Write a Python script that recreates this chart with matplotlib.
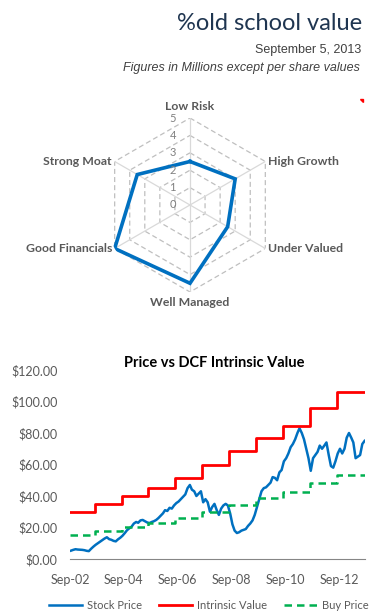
import matplotlib
matplotlib.use("Agg")
import matplotlib.pyplot as plt
import matplotlib.dates as mdates
import matplotlib.patches as mpatches
import numpy as np
import pandas as pd

# radar scores
categories = ["Low Risk", "High Growth", "Under Valued", "Well Managed", "Good Financials", "Strong Moat"]
scores = [2.5, 3.0, 2.5, 4.5, 5.0, 3.5]

# monthly stock price, Sep 2002 .. Aug 2013
price_start = "2002-09-01"
stock_price = [
    5.3, 5.8, 6.2, 6.0, 5.9, 5.8, 5.6, 5.2, 5.0, 6.5, 7.8, 9.0,
    10.0, 11.0, 12.0, 13.0, 13.8, 12.6, 12.2, 11.5, 11.2, 12.5, 13.5, 14.8,
    16.5, 18.3, 19.5, 20.5, 22.5, 23.5, 23.0, 24.5, 24.8, 24.0, 23.2, 22.8,
    23.5, 24.0, 24.8, 26.0, 27.5, 29.0, 31.0, 30.5, 32.5, 32.0, 34.0, 35.5,
    36.5, 38.0, 39.5, 41.0, 45.0, 47.0, 44.0, 43.0, 40.0, 41.5, 43.0, 36.0,
    38.0, 36.0, 30.0, 33.0, 35.0, 31.0, 28.0, 32.0, 34.0, 35.0, 34.0, 29.0,
    22.0, 18.0, 16.5, 17.0, 18.0, 18.5, 19.0, 21.0, 22.5, 24.5, 28.0, 33.0,
    38.0, 43.0, 45.0, 45.5, 47.0, 48.5, 52.0, 51.5, 50.0, 55.0, 56.5, 62.0,
    64.0, 67.0, 71.0, 73.0, 76.0, 80.0, 83.0, 80.0, 76.0, 70.0, 64.0, 56.0,
    64.0, 66.0, 68.0, 72.0, 70.0, 72.0, 74.0, 66.0, 59.0, 58.0, 62.0, 67.0,
    70.0, 67.0, 70.0, 77.0, 80.0, 77.0, 74.0, 64.0, 65.0, 66.0, 73.0, 75.0,
]

# yearly DCF values (change each August)
step_dates = ["2002-09-01", "2003-08-01", "2004-08-01", "2005-08-01", "2006-08-01",
              "2007-08-01", "2008-08-01", "2009-08-01", "2010-08-01", "2011-08-01",
              "2012-08-01", "2013-08-20"]
intrinsic = [30.0, 35.0, 40.0, 45.3, 51.6, 59.7, 68.6, 77.0, 84.7, 95.9, 106.2, 106.2]
buy_price = [15.0, 17.5, 20.0, 22.6, 25.8, 29.9, 34.3, 38.5, 42.4, 48.0, 53.1, 53.1]

xtick_dates = ["2002-09-01", "2004-09-01", "2006-09-01", "2008-09-01", "2010-09-01", "2012-09-01"]
yticks = [0, 20, 40, 60, 80, 100, 120]

fig = plt.figure(figsize=(3.86, 6.13), dpi=100)

# header
fig.text(0.938, 0.962, "%old school value", ha="right", va="center",
         fontsize=17, family="Lato", color="#1f3550")
fig.text(0.935, 0.918, "September 5, 2013", ha="right", va="center",
         fontsize=9, family="Liberation Sans", color="#404040")
fig.text(0.933, 0.889, "Figures in Millions except per share values", ha="right", va="center",
         fontsize=9, family="Liberation Sans", style="italic", color="#404040")

# little red comment marker
fig.patches.append(mpatches.Polygon([[0.933, 0.838], [0.941, 0.838], [0.941, 0.833]],
                                    closed=True, transform=fig.transFigure, color="red"))

# radar
rax = fig.add_axes([0.2668, 0.5237, 0.4508, 0.2838], projection="polar")
rax.set_theta_zero_location("N")
rax.set_theta_direction(-1)
rax.set_ylim(0, 5)
rax.grid(False)
rax.spines["polar"].set_visible(False)
rax.set_xticks([])
rax.set_yticks([])

angles = np.linspace(0, 2 * np.pi, len(categories), endpoint=False)
ring_ang = np.append(angles, angles[0])
for r in range(1, 6):
    rax.plot(ring_ang, [r] * len(ring_ang), color="#bfbfbf", lw=0.9, ls=(0, (4, 2.5)))
for a in angles:
    rax.plot([a, a], [0, 5], color="#d9d9d9", lw=0.9)

vals = scores + scores[:1]
rax.plot(ring_ang, vals, color="#0070c0", lw=2.6, solid_joinstyle="miter")

for r in range(0, 6):
    rax.annotate(str(r), xy=(0, r), xytext=(-12.5, 0), textcoords="offset points",
                 ha="center", va="center", fontsize=8, family="Lato", color="#808080")

label_pos = [(5.35, "center", "bottom"), (5.0, "left", "center"), (5.0, "left", "center"),
             (5.3, "center", "top"), (5.0, "right", "center"), (5.0, "right", "center")]
for a, name, (rr, ha, va) in zip(angles, categories, label_pos):
    dx = 2 if ha == "left" else (-2 if ha == "right" else 0)
    rax.annotate(name, xy=(a, rr), xytext=(dx, 0), textcoords="offset points",
                 ha=ha, va=va, fontsize=8.8, family="Lato", fontweight="bold", color="#595959",
                 annotation_clip=False)

# price chart
ax = fig.add_axes([0.1813, 0.0881, 0.7642, 0.3083])
dates = pd.date_range(price_start, periods=len(stock_price), freq="MS") + pd.Timedelta(days=14)
sdates = pd.to_datetime(step_dates)
ax.plot(dates, stock_price, color="#0070c0", lw=1.8, label="Stock Price")
ax.step(sdates, intrinsic, where="post", color="#ff0000", lw=2.0, label="Intrinsic Value")
ax.step(sdates, buy_price, where="post", color="#00b050", lw=1.8, ls=(0, (3, 2)), label="Buy Price")

ax.set_xlim(pd.Timestamp("2002-09-01"), pd.Timestamp("2013-08-20"))
ax.set_ylim(0, 120)
ax.set_yticks(yticks)
ax.set_yticklabels(["${:.2f}".format(v) for v in yticks])
ax.set_xticks(pd.to_datetime(xtick_dates))
ax.xaxis.set_major_formatter(mdates.DateFormatter("Sep-%y"))
for s in ["top", "right", "left"]:
    ax.spines[s].set_visible(False)
ax.spines["bottom"].set_color("#868686")
ax.tick_params(axis="both", length=0, labelsize=9, labelcolor="#595959")
ax.tick_params(axis="x", pad=11)
ax.tick_params(axis="y", pad=9)
for lbl in ax.get_xticklabels() + ax.get_yticklabels():
    lbl.set_family("Lato")
ax.set_title("Price vs DCF Intrinsic Value", fontsize=10.5, family="Lato", fontweight="bold",
             color="black", x=0.49, pad=1)

leg = ax.legend(loc="upper center", bbox_to_anchor=(0.47, -0.165), ncol=3, frameon=False,
                handlelength=3.0, columnspacing=1.5, handletextpad=0.45,
                prop={"family": "Lato", "size": 8})
for t in leg.get_texts():
    t.set_color("#595959")

fig.savefig("out.png", dpi=100)
